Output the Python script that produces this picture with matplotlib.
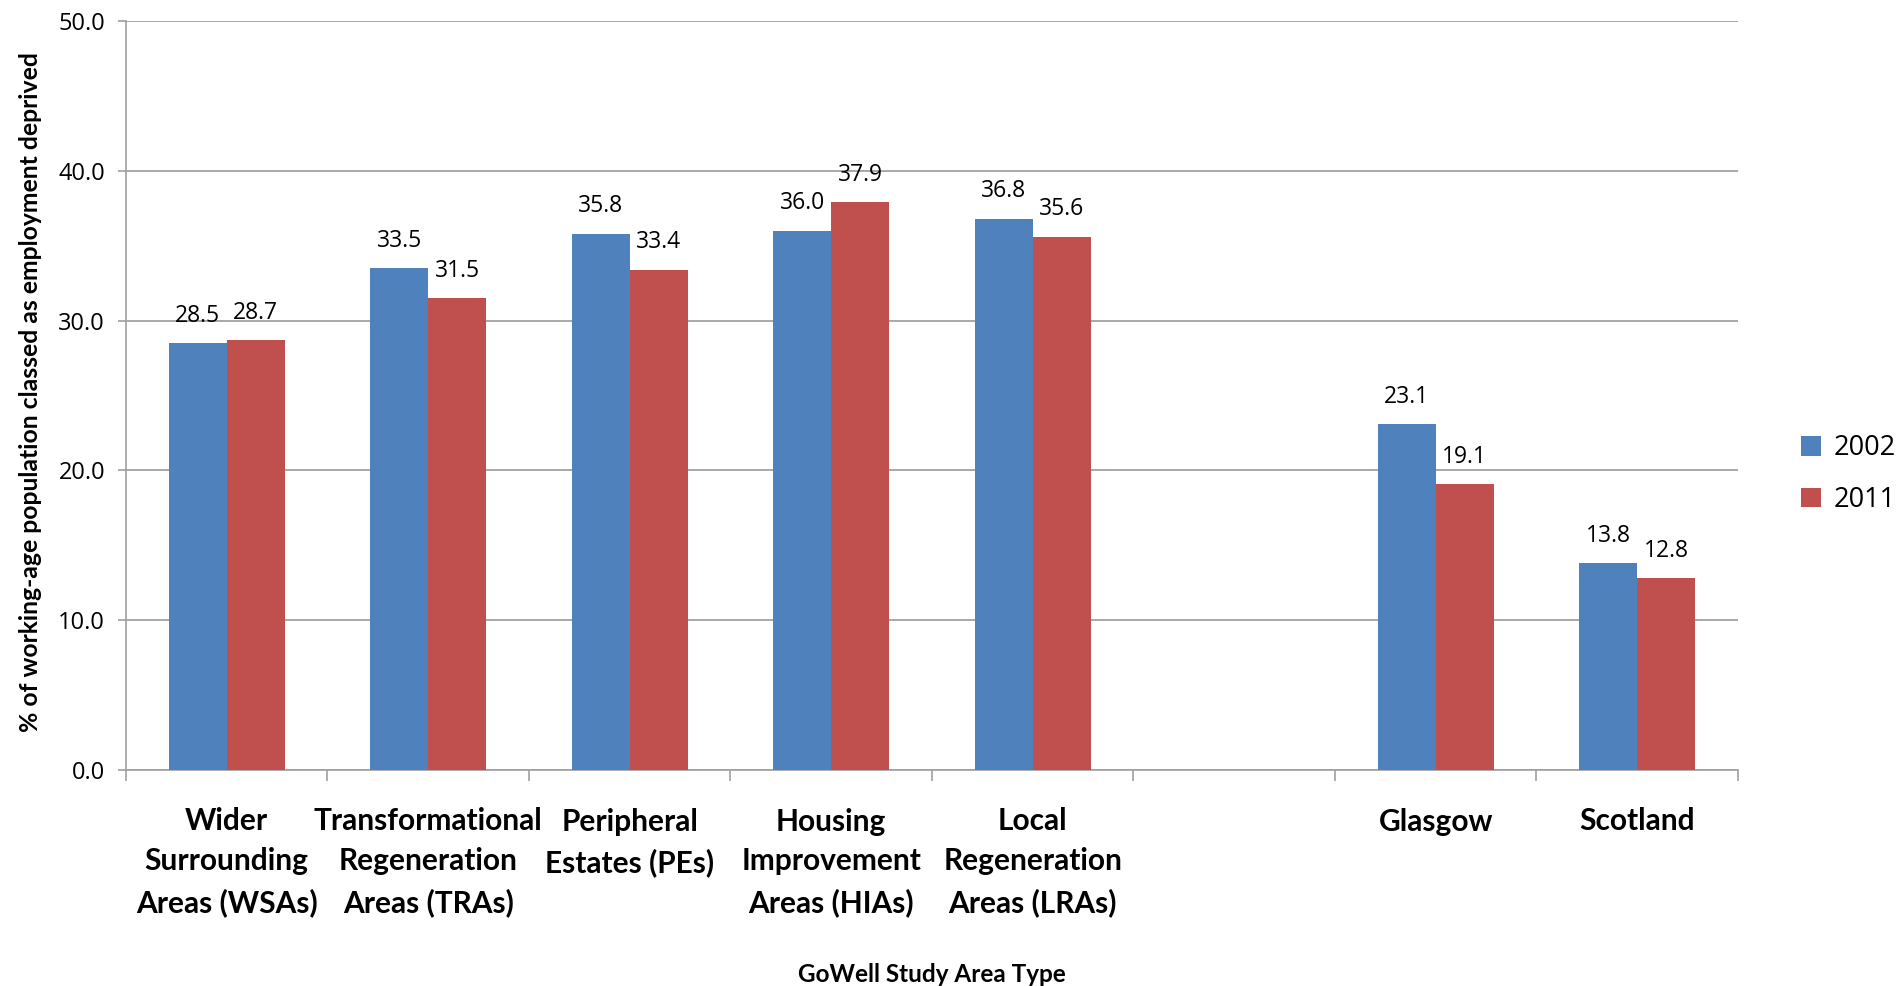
import matplotlib
matplotlib.use("Agg")
import matplotlib.pyplot as plt
import numpy as np

categories = ["Wider\nSurrounding\nAreas (WSAs)",
              "Transformational\nRegeneration\nAreas (TRAs)",
              "Peripheral\nEstates (PEs)",
              "Housing\nImprovement\nAreas (HIAs)",
              "Local\nRegeneration\nAreas (LRAs)",
              "",
              "Glasgow",
              "Scotland"]
values_2002 = [28.5, 33.5, 35.8, 36.0, 36.8, np.nan, 23.1, 13.8]
values_2011 = [28.7, 31.5, 33.4, 37.9, 35.6, np.nan, 19.1, 12.8]
series_names = ["2002", "2011"]
yticks = [0, 10, 20, 30, 40, 50]

BLUE = "#4F81BD"
RED = "#C0504D"
GRID = "#9A9A9A"
NUMFONT = "Open Sans"
LABFONT = "Lato"

fig = plt.figure(figsize=(18.98, 9.86), dpi=100)
ax = fig.add_axes([126/1898, 1-770/986, (1738-126)/1898, (770-21)/986])

x = np.arange(len(categories))
w = 0.288
b1 = ax.bar(x - w/2, values_2002, w, color=BLUE, label=series_names[0], zorder=3)
b2 = ax.bar(x + w/2, values_2011, w, color=RED, label=series_names[1], zorder=3)

for bars, vals in ((b1, values_2002), (b2, values_2011)):
    for rect, v in zip(bars, vals):
        if np.isnan(v):
            continue
        ax.annotate(f"{v:.1f}", (rect.get_x() + rect.get_width()/2, v),
                    xytext=(0, 11), textcoords="offset points",
                    ha="center", va="bottom", fontsize=16.5, family=NUMFONT,
                    color="#000000")

ax.set_xlim(-0.5, len(categories) - 0.5)
ax.set_ylim(0, 50)
ax.set_yticks(yticks)
ax.set_yticklabels([f"{t:.1f}" for t in yticks], fontsize=17, family=NUMFONT)
ax.yaxis.grid(True, color=GRID, linewidth=1.2, zorder=0)
ax.set_axisbelow(True)

ax.set_xticks(x)
ax.set_xticklabels(categories, fontsize=21.5, family=LABFONT, fontweight="bold",
                   linespacing=1.52)
ax.set_xticks(np.arange(-0.5, len(categories)), minor=True)
ax.tick_params(axis="x", which="major", length=0, pad=27)
ax.tick_params(axis="x", which="minor", length=8, width=1.2, color="#A0A0A0")
ax.tick_params(axis="y", length=6, width=1.2, color="#A0A0A0", pad=9)

for s in ("top", "right"):
    ax.spines[s].set_visible(False)
for s in ("left", "bottom"):
    ax.spines[s].set_color("#A0A0A0")
    ax.spines[s].set_linewidth(1.2)

ax.set_xlabel("GoWell Study Area Type", fontsize=17.5, family=LABFONT,
              fontweight="bold")
ax.xaxis.set_label_coords(0.5, -0.258)
ax.set_ylabel("% of working-age population classed as employment deprived",
              fontsize=17.8, family=LABFONT, fontweight="bold")
ax.yaxis.set_label_coords(-0.052, 0.505)

leg = fig.legend(handles=[b1, b2], labels=series_names, loc="center left",
                 bbox_to_anchor=(1801/1898, 1-474/986), frameon=False,
                 prop={"family": NUMFONT, "size": 19.5},
                 handlelength=0.75, handleheight=0.75, handletextpad=0.45,
                 labelspacing=0.88, borderaxespad=0, borderpad=0)

fig.savefig("out.png", dpi=100)
